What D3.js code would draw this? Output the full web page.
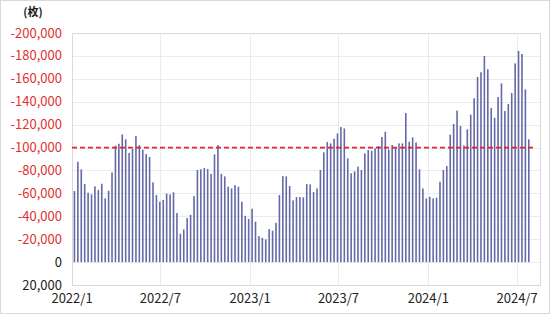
<!DOCTYPE html>
<html>
<head>
<meta charset="utf-8">
<script src="https://cdn.jsdelivr.net/npm/d3@7"></script>
<style>
  body { margin: 0; background: #fff; }
  svg { display: block; font-family: "Noto Sans CJK JP", "Noto Sans", sans-serif; }
</style>
</head>
<body>
<div id="chart"></div>
<script>
// weekly values (sheets), plotted as negatives like the original sheet
var startDate = new Date(2022, 0, 6);
var values = [
  62000, 87600, 81000, 68100, 60500, 59100, 66100, 62900, 68400, 55600,
  62300, 78300, 101600, 103300, 111500, 107200, 95200, 98700, 110000, 102200,
  98100, 94300, 91700, 69600, 58500, 52700, 54200, 59700, 59100, 60900,
  42800, 24700, 28500, 38400, 41300, 57600, 80400, 81000, 82100, 81200,
  76900, 94000, 102200, 77100, 74800, 65800, 64300, 67200, 65800, 52700,
  40400, 37600, 46600, 35200, 22700, 21200, 19800, 28800, 27400, 34300,
  58500, 75100, 74800, 66400, 53900, 56800, 56800, 56500, 68100, 67800,
  61100, 64300, 80400, 95800, 104800, 103600, 107700, 112400, 117900, 116700,
  90600, 77500, 79200, 83300, 80400, 94900, 97800, 97200, 99300, 101300,
  109200, 113800, 98400, 102200, 100400, 103600, 103600, 130100, 105100, 108900,
  104500, 81000, 64300, 55600, 57000, 55600, 56200, 70100, 80400, 83800,
  111200, 120500, 132200, 118800, 101900, 115900, 128700, 143000, 161600, 165700,
  179900, 168300, 134500, 126000, 144100, 156100, 131900, 138000, 147600, 173500,
  184300, 181700, 150800, 107200
];
var refLine = -100000;
var yTicks = [20000, 0, -20000, -40000, -60000, -80000, -100000, -120000,
  -140000, -160000, -180000, -200000];
var xTicks = ["2022-01-01", "2022-07-01", "2023-01-01", "2023-07-01", "2024-01-01", "2024-07-01"];

var W = 550, H = 314;
var margin = {top: 33, right: 9, bottom: 29, left: 72};
var width = W - margin.left - margin.right,
    height = H - margin.top - margin.bottom;

var parse = d3.timeParse("%Y-%m-%d");
var data = values.map(function (v, i) {
  return {date: d3.timeDay.offset(startDate, i * 7), value: -v};
});

var svg = d3.select("#chart").append("svg").attr("width", W).attr("height", H);

svg.append("rect")
  .attr("x", 0.5).attr("y", 0.5)
  .attr("width", W - 1).attr("height", H - 1)
  .attr("fill", "#fff").attr("stroke", "#d9d9d9");

var g = svg.append("g").attr("transform", "translate(" + margin.left + "," + margin.top + ")");

var x = d3.scaleTime()
  .domain([parse("2022-01-01"), parse("2024-08-19")])
  .range([0, width]);

var y = d3.scaleLinear()
  .domain([20000, -200000])
  .range([height, 0]);

// grid
g.append("g").selectAll("line")
  .data(yTicks)
  .enter().append("line")
  .attr("x1", 0).attr("x2", width)
  .attr("y1", function (d) { return Math.round(y(d)) + 0.5; })
  .attr("y2", function (d) { return Math.round(y(d)) + 0.5; })
  .attr("stroke", "#ebebeb");

g.append("g").selectAll("line")
  .data(xTicks.map(parse))
  .enter().append("line")
  .attr("x1", function (d) { return Math.round(x(d)) + 0.5; })
  .attr("x2", function (d) { return Math.round(x(d)) + 0.5; })
  .attr("y1", 0).attr("y2", height)
  .attr("stroke", "#ebebeb");

g.append("rect")
  .attr("x", 0.5).attr("y", 0.5)
  .attr("width", width - 1).attr("height", height)
  .attr("fill", "none").attr("stroke", "#d9d9d9");

// bars
g.append("g").selectAll("rect")
  .data(data)
  .enter().append("rect")
  .attr("x", function (d) { return x(d.date) - 0.8; })
  .attr("width", 1.6)
  .attr("y", function (d) { return y(d.value); })
  .attr("height", function (d) { return y(0) - y(d.value); })
  .attr("fill", "#6569a6");

// reference line
g.append("line")
  .attr("x1", 0).attr("x2", width - 6)
  .attr("y1", y(refLine)).attr("y2", y(refLine))
  .attr("stroke", "#e0242b")
  .attr("stroke-width", 1.8)
  .attr("stroke-dasharray", "5,3");

// y axis labels
var fmt = d3.format(",");
g.append("g").selectAll("text")
  .data(yTicks)
  .enter().append("text")
  .attr("x", -10)
  .attr("y", function (d) { return y(d); })
  .attr("dy", "0.35em")
  .attr("text-anchor", "end")
  .attr("font-size", 13)
  .attr("fill", function (d) { return d < 0 ? "#e03030" : "#222"; })
  .text(function (d) { return d < 0 ? "-" + fmt(-d) : fmt(d); });

// x axis labels
g.append("g").selectAll("text")
  .data(xTicks.map(parse))
  .enter().append("text")
  .attr("x", function (d) { return x(d); })
  .attr("y", height + 13)
  .attr("dy", "0.35em")
  .attr("text-anchor", "middle")
  .attr("font-size", 13)
  .attr("fill", "#222")
  .text(d3.timeFormat("%Y/%-m"));

svg.append("text")
  .attr("x", 33).attr("y", 12)
  .attr("dy", "0.35em")
  .attr("text-anchor", "middle")
  .attr("font-size", 11)
  .attr("font-weight", "bold")
  .attr("fill", "#222")
  .text("(枚)");
</script>
</body>
</html>
